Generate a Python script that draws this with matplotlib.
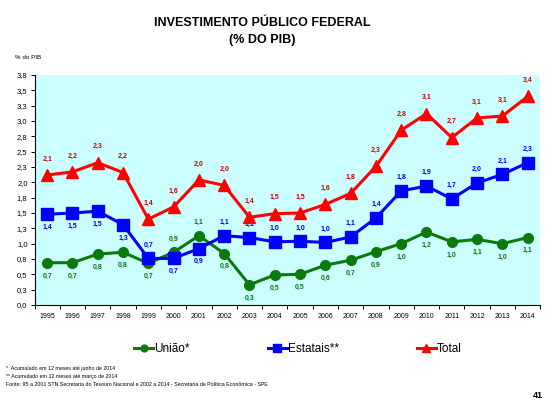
import numpy as np
import matplotlib
matplotlib.use("Agg")
import matplotlib.pyplot as plt

plt.rcParams['font.family'] = ['Liberation Sans', 'DejaVu Sans']

# dados (% do PIB)
anos = [str(a) for a in range(1995, 2015)]
total = [2.12, 2.17, 2.32, 2.16, 1.40, 1.60, 2.04, 1.95, 1.43, 1.49,
         1.50, 1.64, 1.82, 2.26, 2.85, 3.12, 2.73, 3.05, 3.08, 3.40]
estatais = [1.48, 1.50, 1.53, 1.31, 0.76, 0.76, 0.92, 1.13, 1.10, 1.03,
            1.04, 1.02, 1.11, 1.42, 1.86, 1.94, 1.73, 1.99, 2.13, 2.32]
uniao = [0.69, 0.69, 0.83, 0.86, 0.68, 0.86, 1.13, 0.84, 0.33, 0.49,
         0.50, 0.65, 0.73, 0.87, 1.00, 1.19, 1.03, 1.07, 1.00, 1.10]

rot_total = ["2,1", "2,2", "2,3", "2,2", "1,4", "1,6", "2,0", "2,0", "1,4", "1,5",
             "1,5", "1,6", "1,8", "2,3", "2,8", "3,1", "2,7", "3,1", "3,1", "3,4"]
rot_estatais = ["1,4", "1,5", "1,5", "1,3", "0,7", "0,7", "0,9", "1,1", "1,1", "1,0",
                "1,0", "1,0", "1,1", "1,4", "1,8", "1,9", "1,7", "2,0", "2,1", "2,3"]
rot_uniao = ["0,7", "0,7", "0,8", "0,8", "0,7", "0,9", "1,1", "0,8", "0,3", "0,5",
             "0,5", "0,6", "0,7", "0,9", "1,0", "1,2", "1,0", "1,1", "1,0", "1,1"]

yticks = [0, 0.25, 0.5, 0.75, 1.0, 1.25, 1.5, 1.75, 2.0, 2.25, 2.5, 2.75, 3.0, 3.25, 3.5, 3.75]
ytick_labels = ["0,0", "0,3", "0,5", "0,8", "1,0", "1,3", "1,5", "1,8",
                "2,0", "2,3", "2,5", "2,8", "3,0", "3,3", "3,5", "3,8"]

# posição dos rótulos: 1 = acima, -1 = abaixo
pos_estatais = [-1, -1, -1, -1, 1, -1, -1, 1, 1, 1, 1, 1, 1, 1, 1, 1, 1, 1, 1, 1]
pos_uniao = [-1, -1, -1, -1, -1, 1, 1, -1, -1, -1, -1, -1, -1, -1, -1, -1, -1, -1, -1, -1]

verde = '#0a7a0a'
azul = '#0000ff'
vermelho = '#ff0000'

fig = plt.figure(figsize=(5.57, 4.19), dpi=100)
ax = fig.add_axes([0.062, 0.272, 0.908, 0.549])
ax.set_facecolor('#ccffff')

x = np.arange(len(anos))
l1, = ax.plot(x, uniao, color=verde, lw=2.2, marker='o', ms=7, label='União*', zorder=3)
l2, = ax.plot(x, estatais, color=azul, lw=2.2, marker='s', ms=8, label='Estatais**', zorder=4)
l3, = ax.plot(x, total, color=vermelho, lw=2.2, marker='^', ms=8, label='Total', zorder=5)

for i in range(len(x)):
    ax.annotate(rot_total[i], (x[i], total[i]), xytext=(0, 9), textcoords='offset points',
                ha='center', va='bottom', fontsize=5, fontweight='bold', color='#cc0000')
    dy = 7 if pos_estatais[i] > 0 else -7
    ax.annotate(rot_estatais[i], (x[i], estatais[i]), xytext=(0, dy), textcoords='offset points',
                ha='center', va='bottom' if dy > 0 else 'top', fontsize=5, fontweight='bold', color=azul)
    dy = 7 if pos_uniao[i] > 0 else -7
    ax.annotate(rot_uniao[i], (x[i], uniao[i]), xytext=(0, dy), textcoords='offset points',
                ha='center', va='bottom' if dy > 0 else 'top', fontsize=5, fontweight='bold', color=verde)

ax.set_xlim(-0.5, len(anos) - 0.5)
ax.set_ylim(0, 3.75)
ax.set_yticks(yticks)
ax.set_yticklabels(ytick_labels, fontsize=5.5)
ax.set_xticks(x)
ax.set_xticklabels(anos, fontsize=5)
ax.set_xticks(np.arange(-0.5, len(anos)), minor=True)
ax.tick_params(axis='x', which='major', length=0, pad=6)
ax.tick_params(axis='x', which='minor', length=3, width=0.7, direction='out')
ax.tick_params(axis='y', length=3, width=0.7, direction='out', pad=2)
for s in ['top', 'right']:
    ax.spines[s].set_visible(False)
for s in ['left', 'bottom']:
    ax.spines[s].set_linewidth(0.8)

fig.text(0.47, 0.945, 'INVESTIMENTO PÚBLICO FEDERAL', ha='center', va='center',
         fontsize=9, fontweight='bold')
fig.text(0.47, 0.905, '(% DO PIB)', ha='center', va='center', fontsize=9, fontweight='bold')
fig.text(0.027, 0.862, '% do PIB', ha='left', va='center', fontsize=4.5)

fig.legend(handles=[l1, l2, l3], loc='center', bbox_to_anchor=(0.535, 0.167), ncol=3,
           frameon=False, fontsize=8.5, handlelength=1.6, handletextpad=0.1,
           columnspacing=6.6, markerscale=0.7)

fig.text(0.01, 0.12, '*  Acumulado em 12 meses até junho de 2014', fontsize=3.8, va='center')
fig.text(0.01, 0.101, '** Acumulado em 12 meses até março de 2014', fontsize=3.8, va='center')
fig.text(0.01, 0.082, 'Fonte: 95 a 2001 STN Secretaria do Tesouro Nacional e 2002 a 2014 - '
         'Secretaria de Política Econômica - SPE', fontsize=3.8, va='center')
fig.text(0.975, 0.055, '41', ha='right', va='center', fontsize=6.5, fontweight='bold')

fig.savefig('out.png', dpi=100)
